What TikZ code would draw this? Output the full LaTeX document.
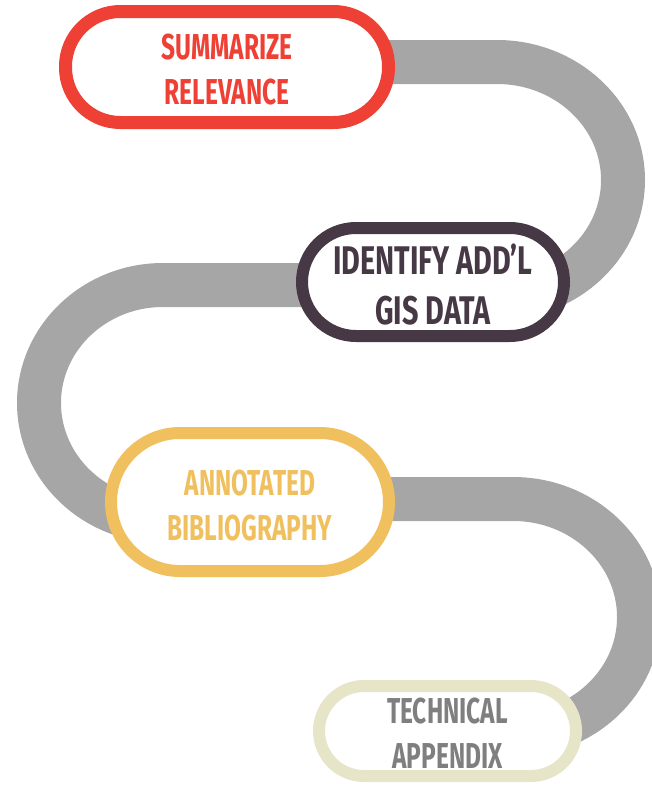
\documentclass[tikz,border=0pt]{standalone}
\usepackage{fontspec}
\newfontfamily\bebas{Fira Sans}[FakeStretch=0.68]
\newfontfamily\bebaswide{Fira Sans}[FakeStretch=0.72]
\usetikzlibrary{backgrounds}
\definecolor{cred}{HTML}{EE4035}
\definecolor{cdark}{HTML}{463844}
\definecolor{cyellow}{HTML}{F1C05E}
\definecolor{cbeige}{HTML}{E6E5C8}
\definecolor{cgraytext}{HTML}{7F7F7F}
\definecolor{roadgray}{HTML}{A6A6A6}
\newcommand{\topstrut}[1]{\rule{0pt}{#1}}
\begin{document}
\begin{tikzpicture}[x=1pt,y=-1pt,
  stepbox/.style={draw, fill=white, align=center, inner sep=0pt,
    font=\bebas\bfseries\fontsize{36}{45}\selectfont},
  bigtext/.style={font=\bebaswide\bfseries\fontsize{40}{50}\selectfont},
  road/.style={draw=roadgray, line width=44pt, line join=round}]
\useasboundingbox (0,0) rectangle (651,787);
\node[stepbox, draw=cred, text=cred, line width=13pt, minimum width=323pt,
  minimum height=111pt, rounded corners=55pt] (n1) at (227,67) {\topstrut{31pt}SUMMARIZE\\RELEVANCE};
\node[stepbox, bigtext, draw=cdark, text=cdark, line width=12pt, minimum width=262pt,
  minimum height=108pt, rounded corners=54pt] (n2) at (433,282) {\topstrut{35.5pt}IDENTIFY ADD’L\\GIS DATA};
\node[stepbox, draw=cyellow, text=cyellow, line width=12pt, minimum width=278pt,
  minimum height=138pt, rounded corners=69pt] (n3) at (250,502) {\topstrut{33pt}ANNOTATED\\BIBLIOGRAPHY};
\node[stepbox, draw=cbeige, text=cgraytext, line width=12pt, minimum width=257pt,
  minimum height=90pt, rounded corners=45pt] (n4) at (447.5,731) {\topstrut{29pt}TECHNICAL\\APPENDIX};
\coordinate (t1) at (497,62);
\coordinate (t2) at (163,285);
\coordinate (t3) at (513,499);
\begin{scope}[on background layer]
\draw[road] (n1.center |- t1) -- (t1) arc[start angle=90, end angle=-90, x radius=126pt, y radius=118pt] -- (n2.center);
\draw[road] (n2.center |- t2) -- (t2) arc[start angle=90, end angle=270, x radius=124pt, y radius=118pt] -- (n3.center);
\draw[road] (n3.center |- t3) -- (t3) arc[start angle=90, end angle=-90, x radius=126pt, y radius=118pt] -- (n4.center);
\end{scope}
\end{tikzpicture}
\end{document}
